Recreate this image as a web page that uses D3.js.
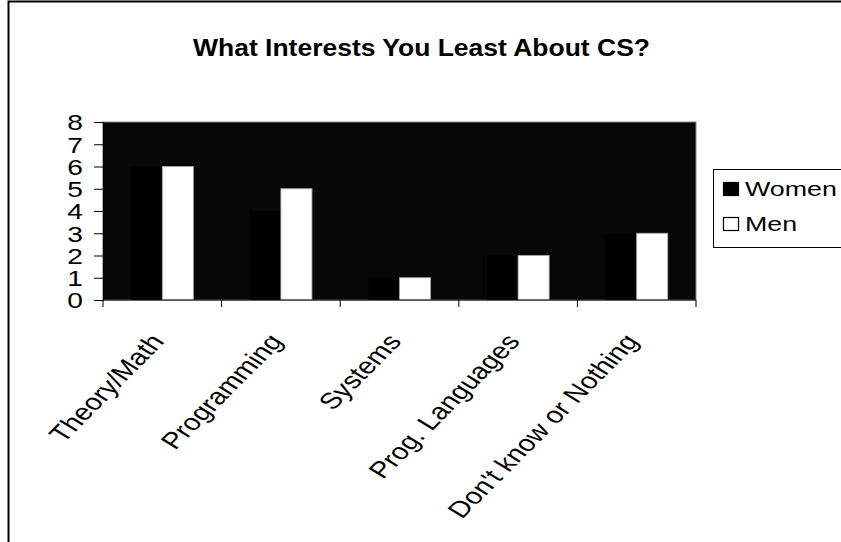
<!DOCTYPE html>
<html>
<head>
<meta charset="utf-8">
<script src="https://cdn.jsdelivr.net/npm/d3@7"></script>
<style>
  body { margin: 0; background: #fff; }
  svg { display: block; font-family: "Liberation Sans", Arial, sans-serif; }
</style>
</head>
<body>
<svg id="chart" width="841" height="542"></svg>
<script>
const title = "What Interests You Least About CS?";
const categories = ["Theory/Math", "Programming", "Systems", "Prog. Languages", "Don't know or Nothing"];
const series = ["Women", "Men"];
const women = [6, 4, 1, 2, 3];
const men = [6, 5, 1, 2, 3];
const yTicks = [0, 1, 2, 3, 4, 5, 6, 7, 8];

const svg = d3.select("#chart");
const W = 841, H = 542;
const plot = { left: 103, right: 696, top: 122, bottom: 300 };
const SX = 1.28; // horizontal stretch of the scanned text

// outer frame
svg.append("rect").attr("x", 8.5).attr("y", 1.5).attr("width", W + 20).attr("height", H + 20)
  .attr("fill", "#fff").attr("stroke", "#000").attr("stroke-width", 2);

svg.append("text").attr("x", 193).attr("y", 56)
  .attr("font-size", 23.5).attr("font-weight", "bold").attr("fill", "#000")
  .attr("textLength", 457).attr("lengthAdjust", "spacingAndGlyphs").text(title);

const x0 = d3.scaleBand().domain(categories).range([plot.left, plot.right]).padding(0);
const x1 = d3.scaleBand().domain(series).range([0, x0.bandwidth()]).paddingInner(0).paddingOuter(0.91);
const y = d3.scaleLinear().domain([0, 8]).range([plot.bottom, plot.top]);

// plot area
svg.append("rect").attr("x", plot.left).attr("y", plot.top)
  .attr("width", plot.right - plot.left).attr("height", plot.bottom - plot.top)
  .attr("fill", "#070707").attr("stroke", "#888").attr("stroke-width", 1);

const data = categories.map((c, i) => ({ cat: c, values: [
  { key: "Women", v: women[i] }, { key: "Men", v: men[i] } ] }));

const colors = { Women: "#000", Men: "#fff" };
svg.append("g").selectAll("g.cat").data(data).join("g").attr("class", "cat")
  .attr("transform", d => `translate(${x0(d.cat)},0)`)
  .selectAll("rect").data(d => d.values).join("rect")
  .attr("x", d => x1(d.key)).attr("width", x1.bandwidth())
  .attr("y", d => y(d.v)).attr("height", d => y(0) - y(d.v))
  .attr("fill", d => colors[d.key])
  .attr("stroke", d => d.key === "Men" ? "#aaa" : "none").attr("stroke-width", 0.8);

// y axis
const yAxis = d3.axisLeft(y).tickValues(yTicks).tickFormat(d3.format("d")).tickSize(9).tickPadding(0);
const ya = svg.append("g").attr("transform", `translate(${plot.left},0)`).call(yAxis);
ya.select(".domain").attr("stroke", "#000").attr("stroke-width", 1.2);
ya.selectAll(".tick line").attr("stroke", "#000");
ya.selectAll(".tick text")
  .attr("x", null)
  .attr("transform", `translate(-20,0) scale(${SX},1)`)
  .attr("dy", "0.36em")
  .attr("font-size", 22).attr("fill", "#000").attr("font-family", "Liberation Sans, Arial, sans-serif");

// x axis: ticks at category boundaries
const boundaries = categories.map(c => x0(c)).concat([plot.right]);
svg.append("line").attr("x1", plot.left).attr("x2", plot.right).attr("y1", plot.bottom).attr("y2", plot.bottom)
  .attr("stroke", "#000").attr("stroke-width", 1.2);
svg.selectAll("line.xt").data(boundaries).join("line").attr("class", "xt")
  .attr("x1", d => d).attr("x2", d => d).attr("y1", plot.bottom).attr("y2", plot.bottom + 7)
  .attr("stroke", "#000");

svg.selectAll("text.xl").data(categories).join("text").attr("class", "xl")
  .attr("transform", d => `translate(${x0(d) + x0.bandwidth() / 2 + 3},${plot.bottom + 42}) scale(${SX},1) rotate(-52)`)
  .attr("text-anchor", "end")
  .attr("font-size", 23).attr("fill", "#000").text(d => d);

// legend
const lg = svg.append("g");
lg.append("rect").attr("x", 713.5).attr("y", 169.5).attr("width", 160).attr("height", 78)
  .attr("fill", "#fff").attr("stroke", "#000").attr("stroke-width", 1);
series.forEach((s, i) => {
  const yy = 196 + i * 35;
  lg.append("rect").attr("x", 723.5).attr("y", yy - 13.5).attr("width", 15).attr("height", 13)
    .attr("fill", colors[s]).attr("stroke", "#000").attr("stroke-width", 1.2);
  lg.append("text").attr("transform", `translate(745,${yy}) scale(${SX + 0.06},1)`)
    .attr("font-size", 20).attr("fill", "#000").text(s);
});
</script>
</body>
</html>
